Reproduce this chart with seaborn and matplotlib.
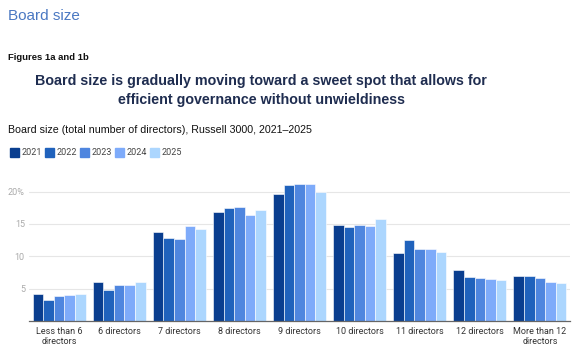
import pandas as pd
import seaborn as sns
import matplotlib.pyplot as plt

# Board size shares (%) by year
categories = ["Less than 6\ndirectors", "6 directors", "7 directors", "8 directors",
              "9 directors", "10 directors", "11 directors", "12 directors",
              "More than 12\ndirectors"]
years = ["2021", "2022", "2023", "2024", "2025"]
v2021 = [4.1, 6.1, 13.7, 16.8, 19.6, 14.8, 10.5, 7.9, 6.9]
v2022 = [3.2, 4.8, 12.9, 17.4, 21.0, 14.5, 12.5, 6.8, 6.9]
v2023 = [3.8, 5.6, 12.7, 17.6, 21.2, 14.8, 11.2, 6.7, 6.6]
v2024 = [4.0, 5.6, 14.7, 16.4, 21.2, 14.7, 11.1, 6.5, 6.0]
v2025 = [4.1, 6.1, 14.3, 17.1, 19.9, 15.7, 10.7, 6.3, 5.9]

colors = ["#0a3e8f", "#2062bc", "#4f86df", "#7eabfa", "#acd6fe"]

# long format for seaborn
rows = []
for yr, vals in zip(years, [v2021, v2022, v2023, v2024, v2025]):
    for cat, v in zip(categories, vals):
        rows.append({"Category": cat, "Year": yr, "Share": v})
df = pd.DataFrame(rows)

sns.set_theme(style="white")
plt.rcParams['font.family'] = ['Roboto', 'DejaVu Sans']

fig = plt.figure(figsize=(5.84, 3.54), dpi=100)
# axes spans 0..22 so the 9-director bars can rise above the 20% line
ax = fig.add_axes([0.0497, 0.0932, 0.9263, 0.402])

sns.barplot(data=df, x="Category", y="Share", hue="Year", palette=colors,
            width=0.88, gap=0, edgecolor="white", linewidth=0.4,
            saturation=1, legend=False, ax=ax)

ax.set_ylim(0, 22)
ax.set_xlim(-0.5, 8.5)
ax.set_yticks([5, 10, 15, 20])
ax.set_yticklabels(["5", "10", "15", "20%"])
ax.yaxis.grid(True, color="#e6e6e6", linewidth=0.8)
ax.set_axisbelow(True)
ax.tick_params(axis="y", length=0, labelsize=6.5, labelcolor="#aaaaaa", pad=3)
ax.tick_params(axis="x", length=0, labelsize=6.5, labelcolor="#333333", pad=4)
ax.set_xlabel("")
ax.set_ylabel("")
for s in ["top", "right", "left"]:
    ax.spines[s].set_visible(False)
ax.spines["bottom"].set_color("#666666")
ax.spines["bottom"].set_linewidth(0.9)

# headers
fig.text(8 / 584, 1 - 16 / 354, "Board size", fontsize=11, color="#4a78c2",
         va="center", family="Liberation Sans")
fig.text(8 / 584, 1 - 57 / 354, "Figures 1a and 1b", fontsize=6.8,
         fontweight="bold", color="#111111", va="center", family="Liberation Sans")
fig.text(261 / 584, 1 - 90.5 / 354,
         "Board size is gradually moving toward a sweet spot that allows for\nefficient governance without unwieldiness",
         fontsize=10.3, fontweight="bold", color="#1f2d50", ha="center",
         va="center", linespacing=1.4, family="Liberation Sans")
fig.text(8 / 584, 1 - 130 / 354,
         "Board size (total number of directors), Russell 3000, 2021\u20132025",
         fontsize=7.7, color="#111111", va="center", family="Liberation Sans")

# legend row
lx = 10
for yr, c in zip(years, colors):
    fig.patches.append(plt.Rectangle((lx / 584, 1 - 157 / 354), 9 / 584, 9 / 354,
                                     transform=fig.transFigure, color=c))
    fig.text((lx + 12) / 584, 1 - 152.5 / 354, yr, fontsize=6.5, color="#444444",
             va="center")
    lx += 35

fig.savefig("out.png", dpi=100)
